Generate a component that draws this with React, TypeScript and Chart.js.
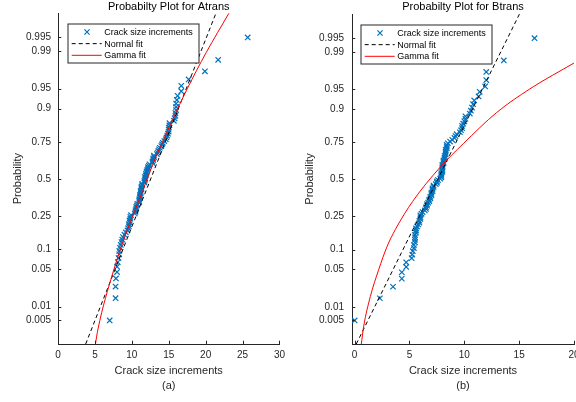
import React, { useEffect, useRef } from 'react';
import { Chart, registerables } from 'chart.js';
Chart.register(...registerables);

// ---- data ----
const probTickValues = [0.005, 0.01, 0.05, 0.1, 0.25, 0.5, 0.75, 0.9, 0.95, 0.99, 0.995];
const probTickLabels = ['0.005', '0.01', '0.05', '0.1', '0.25', '0.5', '0.75', '0.9', '0.95', '0.99', '0.995'];

const xTicksA = [0, 5, 10, 15, 20, 25, 30];
const xTicksB = [0, 5, 10, 15, 20];

// sorted crack size increments (Atrans), 100 samples
const atransIncrements = [
  7.0, 7.8, 7.8, 7.85, 8.0, 8.0, 8.1, 8.2, 8.3, 8.3,
  8.4, 8.5, 8.6, 8.7, 8.8, 9.0, 9.2, 9.4, 9.5, 9.6,
  9.6, 9.7, 9.7, 9.8, 9.8, 9.9, 10.4, 10.5, 10.5, 10.6,
  10.6, 10.7, 10.75, 11.0, 11.0, 11.0, 11.1, 11.1, 11.1, 11.2,
  11.2, 11.2, 11.3, 11.3, 11.3, 11.4, 11.4, 11.7, 11.7, 11.8,
  11.8, 11.8, 11.9, 11.9, 12.0, 12.0, 12.1, 12.2, 12.2, 12.3,
  12.4, 12.8, 12.8, 12.9, 12.9, 13.0, 13.0, 13.4, 13.5, 13.6,
  13.7, 13.8, 14.0, 14.1, 14.2, 14.4, 14.6, 14.7, 14.8, 14.9,
  15.0, 15.0, 15.0, 15.1, 15.1, 15.7, 15.8, 15.9, 15.9, 16.0,
  16.0, 16.0, 16.1, 16.2, 16.7, 16.7, 17.7, 19.9, 21.7, 25.7,
];

// sorted crack size increments (Btrans), 100 samples
const btransIncrements = [
  0.0, 2.3, 3.5, 4.3, 4.3, 4.7, 4.7, 5.2, 5.25, 5.3,
  5.4, 5.4, 5.5, 5.5, 5.5, 5.5, 5.6, 5.6, 5.6, 5.7,
  5.8, 5.9, 5.9, 6.0, 6.0, 6.0, 6.1, 6.2, 6.4, 6.5,
  6.5, 6.6, 6.6, 6.7, 6.8, 6.8, 6.9, 6.9, 7.0, 7.0,
  7.0, 7.1, 7.1, 7.1, 7.2, 7.2, 7.4, 7.5, 7.5, 7.6,
  7.8, 7.9, 7.9, 7.9, 7.9, 8.0, 8.0, 8.0, 8.0, 8.0,
  8.0, 8.1, 8.1, 8.1, 8.2, 8.2, 8.2, 8.3, 8.3, 8.3,
  8.3, 8.4, 8.4, 8.4, 8.5, 8.7, 8.9, 9.1, 9.2, 9.3,
  9.6, 9.7, 9.8, 9.8, 9.9, 10.0, 10.1, 10.1, 10.5, 10.6,
  10.7, 10.8, 10.9, 11.3, 11.4, 11.9, 12.0, 12.0, 13.6, 16.4,
];

// fitted lines, read as (x, normal quantile)
const normalFitAX = [3.75, 21.4];
const normalFitAZ = [-3.005, 3.018];
const gammaFitAX = [5.07, 5.42, 7.43, 9.4, 11.0, 12.95, 15.5, 17.5, 20.07, 23.16];
const gammaFitAZ = [-3.005, -2.73, -1.71, -0.92, -0.38, 0.3, 1.073, 1.64, 2.3, 3.018];

const normalFitBX = [0.15, 15.03];
const normalFitBZ = [-3.005, 3.018];
const gammaFitBX = [0.61, 0.82, 1.43, 2.19, 2.95, 3.7, 5.3, 7.79, 9.9, 12.95, 15.97, 20.06];
const gammaFitBZ = [-3.005, -2.69, -2.14, -1.65, -1.23, -0.92, -0.40, 0.22, 0.65, 1.22, 1.65, 2.13];

// ---- helpers ----
function normInv(p: number): number {
  const a = [-3.969683028665376e+01, 2.209460984245205e+02, -2.759285104469687e+02, 1.383577518672690e+02, -3.066479806614716e+01, 2.506628277459239e+00];
  const b = [-5.447609879822406e+01, 1.615858368580409e+02, -1.556989798598866e+02, 6.680131188771972e+01, -1.328068155288572e+01];
  const c = [-7.784894002430293e-03, -3.223964580411365e-01, -2.400758277161838e+00, -2.549671010050262e+00, 4.374664141464968e+00, 2.938163982698783e+00];
  const d = [7.784695709041462e-03, 3.224671290700398e-01, 2.445134137142996e+00, 3.754408661907416e+00];
  const pl = 0.02425, ph = 1 - pl;
  let q: number, r: number;
  if (p < pl) {
    q = Math.sqrt(-2 * Math.log(p));
    return (((((c[0] * q + c[1]) * q + c[2]) * q + c[3]) * q + c[4]) * q + c[5]) / ((((d[0] * q + d[1]) * q + d[2]) * q + d[3]) * q + 1);
  }
  if (p <= ph) {
    q = p - 0.5; r = q * q;
    return (((((a[0] * r + a[1]) * r + a[2]) * r + a[3]) * r + a[4]) * r + a[5]) * q / (((((b[0] * r + b[1]) * r + b[2]) * r + b[3]) * r + b[4]) * r + 1);
  }
  q = Math.sqrt(-2 * Math.log(1 - p));
  return -(((((c[0] * q + c[1]) * q + c[2]) * q + c[3]) * q + c[4]) * q + c[5]) / ((((d[0] * q + d[1]) * q + d[2]) * q + d[3]) * q + 1);
}

const FONT = '"Liberation Sans", Arial, Helvetica, sans-serif';
const AXIS_COLOR = '#262626';

const inwardTicks = {
  id: 'inwardTicks',
  afterDatasetsDraw(chart: any) {
    const { ctx, chartArea, scales } = chart;
    ctx.save();
    ctx.strokeStyle = AXIS_COLOR;
    ctx.lineWidth = 1;
    ctx.beginPath();
    scales.x.ticks.forEach((t: any) => {
      const px = Math.round(scales.x.getPixelForValue(t.value)) + 0.5;
      ctx.moveTo(px, chartArea.bottom);
      ctx.lineTo(px, chartArea.bottom - 3.3);
    });
    scales.y.ticks.forEach((t: any) => {
      const py = Math.round(scales.y.getPixelForValue(t.value)) + 0.5;
      ctx.moveTo(chartArea.left, py);
      ctx.lineTo(chartArea.left + 3.3, py);
    });
    ctx.stroke();
    ctx.restore();
  },
};

const innerLegend = {
  id: 'innerLegend',
  afterDatasetsDraw(chart: any, _args: any, opts: any) {
    const { ctx, chartArea } = chart;
    const x0 = Math.round(chartArea.left + opts.offsetX);
    const y0 = Math.round(chartArea.top + opts.offsetY);
    const w = opts.width, h = opts.height;
    ctx.save();
    ctx.fillStyle = '#ffffff';
    ctx.fillRect(x0, y0, w, h);
    ctx.strokeStyle = AXIS_COLOR;
    ctx.lineWidth = 1;
    ctx.strokeRect(x0, y0, w, h);
    ctx.font = `9px ${FONT}`;
    ctx.textBaseline = 'middle';
    ctx.textAlign = 'left';
    chart.data.datasets.forEach((ds: any, i: number) => {
      const cy = y0 + 8 + i * 11.65;
      if (ds.showLine) {
        ctx.strokeStyle = ds.borderColor;
        ctx.lineWidth = ds.borderWidth;
        ctx.setLineDash(ds.borderDash || []);
        ctx.beginPath();
        ctx.moveTo(x0 + 3.7, cy);
        ctx.lineTo(x0 + 33.7, cy);
        ctx.stroke();
        ctx.setLineDash([]);
      } else {
        const s = 2.6;
        const cx = x0 + 19;
        ctx.strokeStyle = ds.borderColor;
        ctx.lineWidth = 1.2;
        ctx.beginPath();
        ctx.moveTo(cx - s, cy - s); ctx.lineTo(cx + s, cy + s);
        ctx.moveTo(cx - s, cy + s); ctx.lineTo(cx + s, cy - s);
        ctx.stroke();
      }
      ctx.fillStyle = '#000000';
      ctx.fillText(ds.label, x0 + 36.3, cy + 0.5);
    });
    ctx.restore();
  },
};

type PanelCfg = {
  title: string;
  caption: string;
  values: number[];
  nfX: number[]; nfZ: number[];
  gfX: number[]; gfZ: number[];
  xMin: number; xMax: number; xTicks: number[];
  yAxisWidth: number; padRight: number;
  yTitlePad: number; yTickPad: number;
  legendOffsetX: number;
};

function buildChart(canvas: HTMLCanvasElement, cfg: PanelCfg) {
  const n = cfg.values.length;
  const scatter = cfg.values.map((x, i) => ({ x, y: normInv((i + 0.5) / n) }));
  const normalLine = cfg.nfX.map((x, i) => ({ x, y: cfg.nfZ[i] }));
  const gammaLine = cfg.gfX.map((x, i) => ({ x, y: cfg.gfZ[i] }));
  const zTicks = probTickValues.map((p) => normInv(p));

  return new Chart(canvas, {
    type: 'scatter',
    data: {
      datasets: [
        {
          label: 'Crack size increments',
          data: scatter,
          showLine: false,
          pointStyle: 'crossRot',
          pointRadius: 3.8,
          pointBorderWidth: 1.2,
          borderColor: '#0072BD',
          backgroundColor: '#0072BD',
          order: 3,
        } as any,
        {
          label: 'Normal fit',
          data: normalLine,
          showLine: true,
          borderColor: '#000000',
          borderWidth: 1,
          borderDash: [4, 3],
          pointRadius: 0,
          order: 2,
        },
        {
          label: 'Gamma fit',
          data: gammaLine,
          showLine: true,
          borderColor: '#FF0000',
          borderWidth: 1,
          pointRadius: 0,
          cubicInterpolationMode: 'monotone',
          order: 1,
        },
      ],
    },
    options: {
      animation: false,
      responsive: false,
      maintainAspectRatio: false,
      layout: { padding: { left: 0, right: cfg.padRight, top: 0, bottom: 0 } },
      plugins: {
        legend: { display: false },
        tooltip: { enabled: false },
        title: {
          display: true,
          text: cfg.title,
          fullSize: false,
          color: '#000000',
          font: { family: FONT, size: 11, weight: 'normal', lineHeight: 1.2 },
          padding: { top: 0, bottom: 0 },
        },
        innerLegend: { offsetX: cfg.legendOffsetX, offsetY: 10.8, width: 131, height: 39 },
      } as any,
      scales: {
        x: {
          type: 'linear',
          min: cfg.xMin,
          max: cfg.xMax,
          afterBuildTicks: (scale: any) => {
            scale.ticks = cfg.xTicks.map((v) => ({ value: v }));
          },
          afterFit: (scale: any) => { scale.height = 58; },
          grid: { display: false, drawTicks: false },
          border: { display: true, color: AXIS_COLOR, width: 1 },
          ticks: {
            color: AXIS_COLOR,
            padding: 5,
            maxRotation: 0,
            autoSkip: false,
            font: { family: FONT, size: 10 },
            callback: (v: any) => String(v),
          },
          title: {
            display: true,
            text: ['Crack size increments', cfg.caption],
            color: AXIS_COLOR,
            font: { family: FONT, size: 11, lineHeight: 1.35 },
            padding: { top: 0, bottom: 8.9 },
          },
        },
        y: {
          type: 'linear',
          min: -3.005,
          max: 3.018,
          afterBuildTicks: (scale: any) => {
            scale.ticks = zTicks.map((v) => ({ value: v }));
          },
          afterFit: (scale: any) => { scale.width = cfg.yAxisWidth; },
          grid: { display: false, drawTicks: false },
          border: { display: true, color: AXIS_COLOR, width: 1 },
          ticks: {
            color: AXIS_COLOR,
            padding: cfg.yTickPad,
            autoSkip: false,
            font: { family: FONT, size: 10 },
            callback: (_v: any, idx: number) => probTickLabels[idx],
          },
          title: {
            display: true,
            text: 'Probability',
            color: AXIS_COLOR,
            font: { family: FONT, size: 11, lineHeight: 1.2 },
            padding: { top: cfg.yTitlePad, bottom: 0 },
          },
        },
      },
    } as any,
    plugins: [inwardTicks, innerLegend],
  });
}

export default function App() {
  const refA = useRef<HTMLCanvasElement | null>(null);
  const refB = useRef<HTMLCanvasElement | null>(null);

  useEffect(() => {
    if (!refA.current || !refB.current) return;
    const chartA = buildChart(refA.current, {
      title: 'Probabilty Plot for Atrans',
      caption: '(a)',
      values: atransIncrements,
      nfX: normalFitAX, nfZ: normalFitAZ,
      gfX: gammaFitAX, gfZ: gammaFitAZ,
      xMin: 0, xMax: 30, xTicks: xTicksA,
      yAxisWidth: 58, padRight: 9,
      yTitlePad: 10.9, yTickPad: 7,
      legendOffsetX: 10,
    });
    const chartB = buildChart(refB.current, {
      title: 'Probabilty Plot for Btrans',
      caption: '(b)',
      values: btransIncrements,
      nfX: normalFitBX, nfZ: normalFitBZ,
      gfX: gammaFitBX, gfZ: gammaFitBZ,
      xMin: -0.24, xMax: 20, xTicks: xTicksB,
      yAxisWidth: 62, padRight: 16,
      yTitlePad: 12.9, yTickPad: 8,
      legendOffsetX: 9,
    });
    return () => { chartA.destroy(); chartB.destroy(); };
  }, []);

  return (
    <div style={{ position: 'absolute', left: 0, top: 0, width: 576, height: 402, overflow: 'hidden', background: '#ffffff' }}>
      <canvas ref={refA} width={290} height={402} style={{ position: 'absolute', left: 0, top: 0, width: 290, height: 402 }} />
      <canvas ref={refB} width={300} height={402} style={{ position: 'absolute', left: 290, top: 0, width: 300, height: 402 }} />
    </div>
  );
}
